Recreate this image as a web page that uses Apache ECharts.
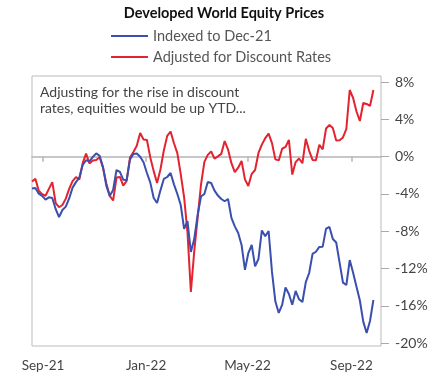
<!DOCTYPE html>
<html>
<head>
<meta charset="utf-8">
<script src="https://cdn.jsdelivr.net/npm/echarts@6/dist/echarts.min.js"></script>
<style>
html,body{margin:0;padding:0;background:#fff;}
#chart{width:448px;height:380px;}
</style>
</head>
<body>
<div id="chart"></div>
<script>
// ---- data ----
const startDate = '2021-08-19';
const stepDays = 4;
const seriesNames = ['Indexed to Dec-21', 'Adjusted for Discount Rates'];
const blue = [
-3.42,-3.36,-3.97,-4.21,-4.60,-4.36,-4.43,-5.61,-6.47,-5.72,
-5.36,-4.48,-3.32,-2.73,-2.24,-0.89,-0.38,-0.51,-0.03,0.35,
0.10,-1.10,-3.14,-4.21,-3.57,-1.43,-1.64,-2.47,-2.50,-0.29,
0.29,0.34,0.00,-0.59,-1.75,-2.78,-4.43,-4.97,-3.61,-2.39,
-2.18,-1.75,-2.97,-4.00,-5.18,-7.73,-6.90,-10.22,-8.83,-6.25,
-4.27,-4.00,-2.71,-2.82,-3.64,-4.17,-4.54,-4.78,-4.54,-6.57,
-7.47,-8.18,-9.46,-12.14,-10.33,-9.47,-11.76,-10.97,-7.91,-8.54,
-7.97,-12.36,-15.53,-16.76,-15.90,-14.02,-14.72,-15.87,-14.40,-15.29,
-15.58,-13.46,-12.47,-10.43,-10.19,-9.68,-9.65,-7.71,-7.54,-8.83,
-9.20,-11.36,-13.50,-13.76,-11.08,-12.44,-13.94,-15.42,-17.69,-18.90,
-17.62,-15.37
];
const red = [
-2.67,-2.38,-3.66,-4.02,-4.19,-3.45,-2.73,-4.97,-5.42,-5.18,
-4.50,-3.45,-2.62,-2.20,-2.45,-0.70,0.33,-0.73,-0.42,-0.35,
-0.06,-1.17,-2.88,-4.20,-4.70,-2.24,-2.17,-3.11,-2.60,-0.08,
0.50,1.16,2.53,1.84,1.79,-0.08,-1.55,-2.83,-1.38,0.66,
2.23,2.70,1.44,0.38,-1.88,-4.35,-8.12,-14.51,-10.14,-6.56,
-2.99,-0.56,0.19,0.55,-0.21,0.03,0.30,1.68,0.76,-0.70,
-1.65,-1.18,-0.46,-2.43,-3.14,-1.84,-1.43,0.40,1.29,1.98,
2.48,1.45,-0.29,-0.40,0.85,1.04,1.80,-1.92,-0.58,-0.20,
-0.71,1.91,0.63,-0.35,-0.38,1.28,0.79,3.02,3.39,3.07,
1.73,1.76,2.06,2.99,7.15,6.29,4.84,3.83,5.76,5.65,
5.44,7.15
];
const xTickDates = ['2021-09-01','2022-01-01','2022-05-01','2022-09-01'];
const xTickLabels = ['Sep-21','Jan-22','May-22','Sep-22'];
const yTicks = [-20,-16,-12,-8,-4,0,4,8];
const xMinDate = '2021-08-19';
const xMaxDate = '2022-10-06';
const yMin = -20.3, yMax = 8.65;
const noteLines = ['Adjusting for the rise in discount', 'rates, equities would be up YTD...'];

// ---- build ----
function ts(s){const p=s.split('-').map(Number);return Date.UTC(p[0],p[1]-1,p[2]);}
const DAY = 86400000;
const t0 = ts(startDate);
const dates = blue.map((_, i) => t0 + i * stepDays * DAY);
const xTickTs = xTickDates.map(ts);
const blueData = dates.map((d, i) => [d, blue[i]]);
const redData = dates.map((d, i) => [d, red[i]]);

const font = 'Lato, "Open Sans", sans-serif';
const chart = echarts.init(document.getElementById('chart'), null, {renderer:'canvas'});
chart.setOption({
  animation: false,
  backgroundColor: '#fff',
  title: {
    text: 'Developed World Equity Prices',
    left: 'center', top: 1,
    textStyle: {fontFamily: font, fontSize: 14.5, fontWeight: 'bold', color: '#111'}
  },
  legend: {
    orient: 'vertical', left: 106, top: 23,
    data: seriesNames,
    icon: 'rect', itemWidth: 37, itemHeight: 2, itemGap: 5,
    textStyle: {fontFamily: font, fontSize: 14.5, color: '#555', lineHeight: 16}
  },
  graphic: [{
    type: 'text', left: 40, top: 84,
    style: {text: noteLines.join('\n'), fontFamily: font, fontSize: 14, lineHeight: 16.5, fill: '#444'}
  }],
  grid: {left: 32, right: 67, top: 76, bottom: 34, show: true, borderColor: '#bbb', borderWidth: 1, containLabel: false},
  xAxis: [{
    type: 'value', min: ts(xMinDate), max: ts(xMaxDate), position: 'bottom',
    axisLine: {show: false, onZero: false}, axisTick: {show: false}, splitLine: {show: false},
    axisLabel: {
      customValues: xTickTs, margin: 13,
      fontFamily: font, fontSize: 13.5, color: '#444',
      formatter: v => { const i = xTickTs.indexOf(v); return i >= 0 ? xTickLabels[i] : ''; }
    }
  }, {
    type: 'value', min: ts(xMinDate), max: ts(xMaxDate), position: 'bottom',
    axisLine: {show: true, onZero: true, lineStyle: {color: '#b5b5b5', width: 1.5}},
    axisTick: {show: true, customValues: xTickTs, length: 5, lineStyle: {color: '#b5b5b5', width: 1.5}},
    axisLabel: {show: false}, splitLine: {show: false}
  }],
  yAxis: {
    type: 'value', position: 'right', min: yMin, max: yMax,
    axisLine: {show: false}, splitLine: {show: false},
    axisTick: {show: true, customValues: yTicks, length: 8, lineStyle: {color: '#aaa'}},
    axisLabel: {
      customValues: yTicks, margin: 14,
      fontFamily: font, fontSize: 14, color: '#444',
      formatter: v => Math.round(v) + '%'
    }
  },
  series: [{
    name: seriesNames[1], type: 'line', data: redData, showSymbol: false, xAxisIndex: 0,
    lineStyle: {color: '#e32330', width: 2}, itemStyle: {color: '#e32330'}, z: 3
  }, {
    name: seriesNames[0], type: 'line', data: blueData, showSymbol: false, xAxisIndex: 0,
    lineStyle: {color: '#3a4fae', width: 2}, itemStyle: {color: '#3a4fae'}, z: 4
  }]
});
</script>
</body>
</html>
